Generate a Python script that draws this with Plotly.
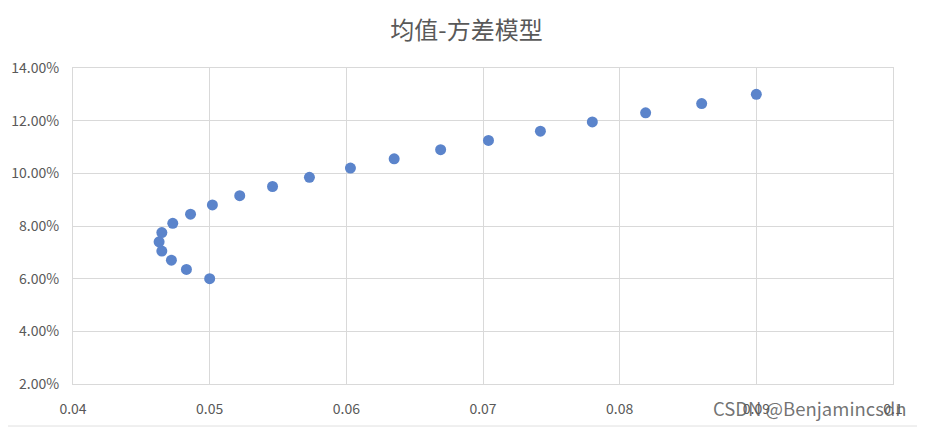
import plotly.graph_objects as go

# Portfolio standard deviation (x) and expected return (y)
std_dev = [0.0500, 0.0483, 0.0472, 0.0465, 0.0463, 0.0465, 0.0473, 0.0486, 0.0502,
           0.0522, 0.0546, 0.0573, 0.0603, 0.0635, 0.0669, 0.0704, 0.0742, 0.0780,
           0.0819, 0.0860, 0.0900]
exp_return = [0.0600, 0.0635, 0.0670, 0.0705, 0.0740, 0.0775, 0.0810, 0.0845, 0.0880,
              0.0915, 0.0950, 0.0985, 0.1020, 0.1055, 0.1090, 0.1125, 0.1160, 0.1195,
              0.1230, 0.1265, 0.1300]

x_ticks = [0.04, 0.05, 0.06, 0.07, 0.08, 0.09, 0.1]
x_tick_labels = ["0.04", "0.05", "0.06", "0.07", "0.08", "0.09", "0.1"]
y_ticks = [0.02, 0.04, 0.06, 0.08, 0.10, 0.12, 0.14]
y_tick_labels = ["2.00%", "4.00%", "6.00%", "8.00%", "10.00%", "12.00%", "14.00%"]

title_text = "均值-方差模型"
watermark = "CSDN @Benjamincsdn"

FONT = "Noto Sans CJK SC, Noto Sans, sans-serif"
GRID = "#d9d9d9"
TXT = "#595959"

fig = go.Figure()
fig.add_trace(go.Scatter(
    x=std_dev, y=exp_return, mode="markers",
    marker=dict(color="#5b84cb", size=11, line=dict(width=0)),
    showlegend=False, hoverinfo="x+y",
))

fig.update_layout(
    width=917, height=419,
    margin=dict(l=65, r=32, t=60, b=43, autoexpand=False),
    paper_bgcolor="white", plot_bgcolor="white",
    title=dict(text=title_text, x=0.5, xanchor="center", y=0.945, yanchor="middle",
               font=dict(family=FONT, size=24, color=TXT)),
    font=dict(family=FONT, color=TXT, size=12),
    xaxis=dict(range=[0.04, 0.1], tickvals=x_ticks, ticktext=x_tick_labels,
               showgrid=True, gridcolor=GRID, gridwidth=1, zeroline=False,
               showline=True, linecolor=GRID, mirror=True, automargin=False,
               ticks="outside", ticklen=12, tickcolor="rgba(0,0,0,0)",
               tickfont=dict(family=FONT, size=14, color=TXT)),
    yaxis=dict(range=[0.02, 0.14], tickvals=y_ticks, ticktext=y_tick_labels,
               showgrid=True, gridcolor=GRID, gridwidth=1, zeroline=False,
               showline=True, linecolor=GRID, mirror=True, automargin=False,
               ticks="outside", ticklen=10, tickcolor="rgba(0,0,0,0)",
               tickfont=dict(family=FONT, size=14, color=TXT)),
)

fig.add_annotation(text=watermark, xref="paper", yref="paper",
                   x=1.02, y=-0.075, xanchor="right", yanchor="middle",
                   showarrow=False,
                   font=dict(family=FONT, size=18.5, color="rgba(90,90,90,0.85)"))

# chart frame on right and bottom edges
fig.add_shape(type="line", xref="paper", yref="paper", x0=1.0366, x1=1.0366, y0=-0.14, y1=1.3,
              line=dict(color="#e0e0e0", width=1))
fig.add_shape(type="line", xref="paper", yref="paper", x0=-0.1, x1=1.04, y0=-0.133, y1=-0.133,
              line=dict(color="#e0e0e0", width=1))

fig.write_html("out.html")
